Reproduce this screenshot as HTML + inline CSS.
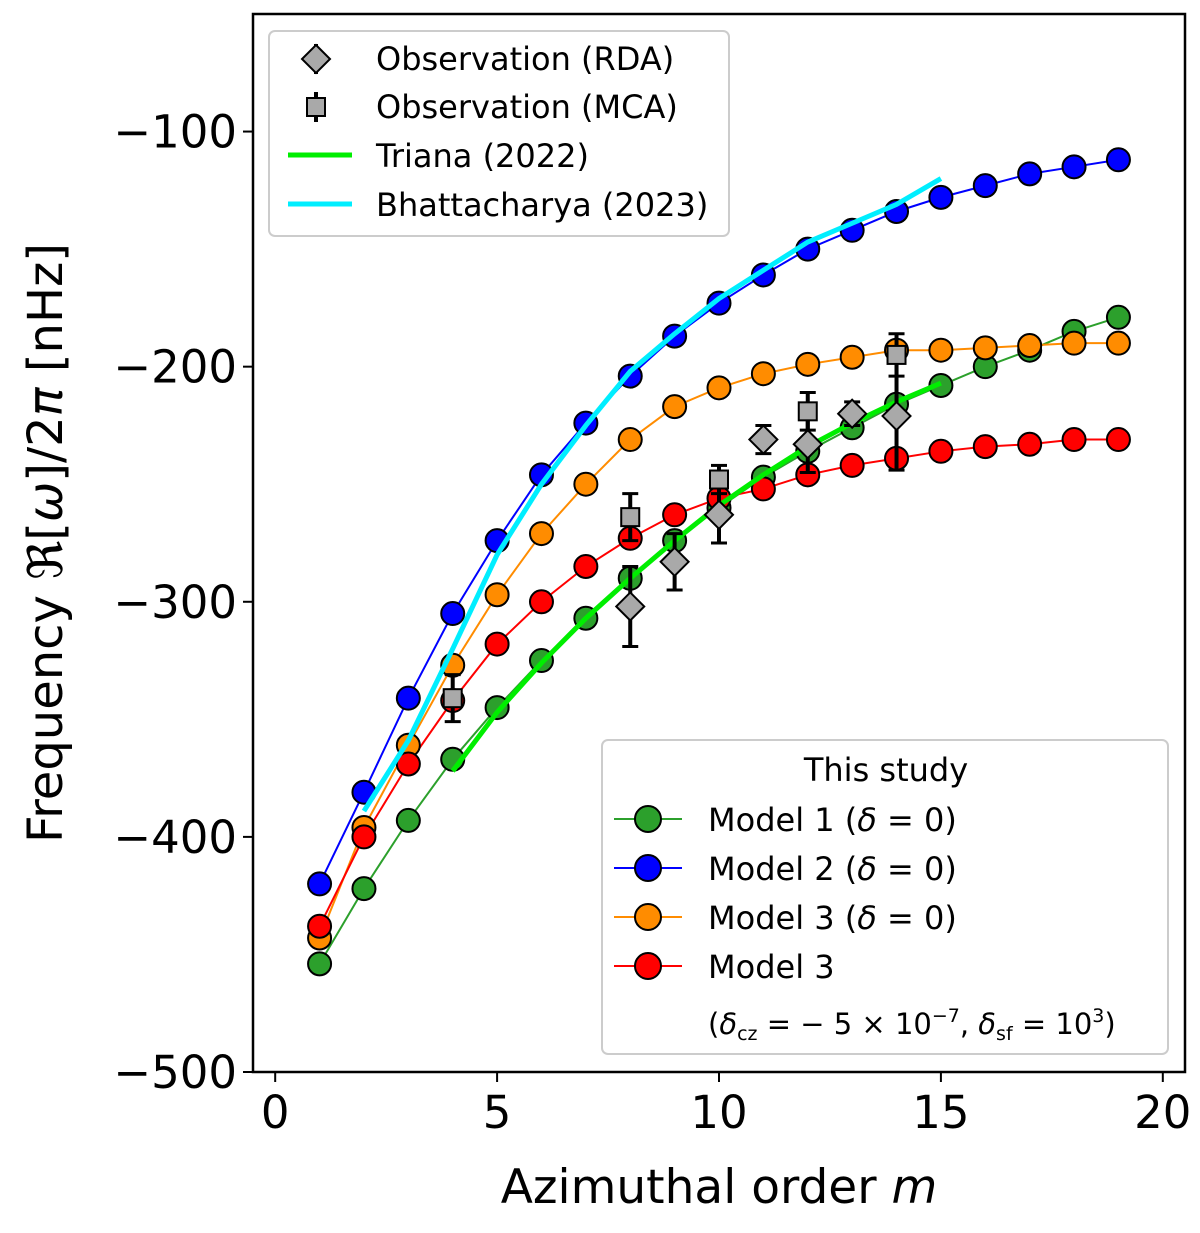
<!DOCTYPE html>
<html><head><meta charset="utf-8"><style>
body{margin:0;background:#fff;}
svg{display:block;font-family:"DejaVu Sans","Liberation Sans",sans-serif;}
</style></head><body>
<svg id="c" width="1200" height="1233"></svg>
<script>
const mAll=[1,2,3,4,5,6,7,8,9,10,11,12,13,14,15,16,17,18,19];
const model1=[-454,-422,-393,-367,-345,-325,-307,-290,-274,-260,-247,-236,-226,-216,-208,-200,-193,-185,-179];
const model2=[-420,-381,-341,-305,-274,-246,-224,-204,-187,-173,-161,-150,-142,-134,-128,-123,-118,-115,-112];
const model3=[-443,-396,-361,-327,-297,-271,-250,-231,-217,-209,-203,-199,-196,-193,-193,-192,-191,-190,-190];
const model3d=[-438,-400,-369,-342,-318,-300,-285,-273,-263,-256,-252,-246,-242,-239,-236,-234,-233,-231,-231];
const trianaM=[4,5,6,7,8,9,10,11,12,13,14,15];
const trianaV=[-372,-347,-326,-307,-290,-274,-259,-246,-234,-224,-215,-207];
const bhatM=[2,3,4,5,6,7,8,9,10,11,12,13,14,15];
const bhatV=[-389,-359,-320,-280,-250,-225,-202,-186,-171,-159,-147,-139,-131,-120];
const rdaM=[8,9,10,11,12,13,14];
const rdaV=[-302,-283,-263,-231,-233,-220,-221];
const rdaE=[17,12,12,6,12,5,23];
const mcaM=[4,8,10,12,14];
const mcaV=[-341,-264,-248,-219,-195];
const mcaE=[10,10,6,8,9];
const xTicks=[0,5,10,15,20];
const yTicks=[-100,-200,-300,-400,-500];

const L=253,R=1185,T=14,B=1072;
const X=v=>L+(v+0.5)/21*(R-L);
const Y=v=>T+(-50-v)/450*(B-T);
const svg=document.getElementById('c');
const NS='http://www.w3.org/2000/svg';
function el(t,a,p){const e=document.createElementNS(NS,t);for(const k in a)e.setAttribute(k,a[k]);(p||svg).appendChild(e);return e;}

function line(ms,vs,col,w,name){
  const p=el('polyline',{points:ms.map((m,i)=>X(m)+','+Y(vs[i])).join(' '),fill:'none',stroke:col,'stroke-width':w});
  
  
}
function circles(vs,col,name){
  vs.forEach((v,i)=>{const c=el('circle',{cx:X(mAll[i]),cy:Y(v),r:11.5,fill:col,stroke:'#000','stroke-width':2});
  
  });
}
line(mAll,model1,'#2ca02c',2,'model1-line');
line(mAll,model2,'#0000ff',2,'model2-line');
line(mAll,model3,'#ff8c00',2,'model3-line');
line(mAll,model3d,'#ff0000',2,'model3-delta-line');
circles(model1,'#2ca02c','model1');
circles(model2,'#0000ff','model2');
circles(model3,'#ff8c00','model3');
circles(model3d,'#ff0000','model3-delta');
line(trianaM,trianaV,'#00ee00',5,'triana-line');
line(bhatM,bhatV,'#00eeff',5,'bhattacharya-line');
function errbar(x,y1,y2){
  el('line',{x1:x,x2:x,y1:y1,y2:y2,stroke:'#000','stroke-width':4});
  el('line',{x1:x-8,x2:x+8,y1:y1,y2:y1,stroke:'#000','stroke-width':3});
  el('line',{x1:x-8,x2:x+8,y1:y2,y2:y2,stroke:'#000','stroke-width':3});
}
rdaM.forEach((m,i)=>{const x=X(m),y=Y(rdaV[i]);errbar(x,Y(rdaV[i]+rdaE[i]),Y(rdaV[i]-rdaE[i]));
  const d=el('polygon',{points:`${x},${y-14} ${x+14},${y} ${x},${y+14} ${x-14},${y}`,fill:'#a9a9a9',stroke:'#000','stroke-width':2});
  
  });
mcaM.forEach((m,i)=>{const x=X(m),y=Y(mcaV[i]);errbar(x,Y(mcaV[i]+mcaE[i]),Y(mcaV[i]-mcaE[i]));
  const s=el('rect',{x:x-9,y:y-9,width:18,height:18,fill:'#a9a9a9',stroke:'#000','stroke-width':2});
  
  });
el('rect',{x:L,y:T,width:R-L,height:B-T,fill:'none',stroke:'#000','stroke-width':2.5});
xTicks.forEach(t=>{el('line',{x1:X(t),x2:X(t),y1:B,y2:B+10,stroke:'#000','stroke-width':2});
  const tx=el('text',{x:X(t),y:B+56,'font-size':45,'text-anchor':'middle'});tx.textContent=t;
  
  });
yTicks.forEach(t=>{el('line',{x1:L-10,x2:L,y1:Y(t),y2:Y(t),stroke:'#000','stroke-width':2});
  const tx=el('text',{x:L-16,y:Y(t)+16,'font-size':45,'text-anchor':'end'});tx.textContent='−'+Math.abs(t);
  
  });
</script>
<svg style="position:absolute;left:0;top:0" width="1200" height="1233" font-family="DejaVu Sans, Liberation Sans, sans-serif">
<text x="719" y="1203" font-size="47" text-anchor="middle">Azimuthal order <tspan font-style="italic">m</tspan></text>
<text transform="translate(62,543) rotate(-90)" font-size="48" text-anchor="middle">Frequency ℜ[<tspan font-style="italic">ω</tspan>]/2<tspan font-style="italic">π</tspan> [nHz]</text>
<g>
<rect x="269" y="31" width="460" height="205" rx="6" fill="#fff" fill-opacity="0.85" stroke="#ccc" stroke-width="2"/>
<line x1="316" y1="44" x2="316" y2="74" stroke="#000" stroke-width="4"/><polygon points="316,45 330,59 316,73 302,59" fill="#a9a9a9" stroke="#000" stroke-width="2"/>
<text x="376" y="70" font-size="32">Observation (RDA)</text>
<line x1="316" y1="92" x2="316" y2="122" stroke="#000" stroke-width="4"/><rect x="307" y="98" width="18" height="18" fill="#a9a9a9" stroke="#000" stroke-width="2"/>
<text x="376" y="118" font-size="32">Observation (MCA)</text>
<line x1="288" y1="155" x2="352" y2="155" stroke="#00ee00" stroke-width="5"/><text x="376" y="167" font-size="32">Triana (2022)</text>
<line x1="288" y1="204" x2="352" y2="204" stroke="#00eeff" stroke-width="5"/><text x="376" y="216" font-size="32">Bhattacharya (2023)</text>
</g>
<g>
<rect x="602" y="740" width="566" height="314" rx="6" fill="#fff" fill-opacity="0.85" stroke="#ccc" stroke-width="2"/>
<text x="886" y="781" font-size="32" text-anchor="middle">This study</text>
<line x1="614" y1="819" x2="682" y2="819" stroke="#2ca02c" stroke-width="2"/><circle cx="648" cy="819" r="13" fill="#2ca02c" stroke="#000" stroke-width="2"/>
<text x="708" y="831" font-size="32">Model 1 (<tspan font-style="italic">δ</tspan> = 0)</text>
<line x1="614" y1="868" x2="682" y2="868" stroke="#0000ff" stroke-width="2"/><circle cx="648" cy="868" r="13" fill="#0000ff" stroke="#000" stroke-width="2"/>
<text x="708" y="880" font-size="32">Model 2 (<tspan font-style="italic">δ</tspan> = 0)</text>
<line x1="614" y1="917" x2="682" y2="917" stroke="#ff8c00" stroke-width="2"/><circle cx="648" cy="917" r="13" fill="#ff8c00" stroke="#000" stroke-width="2"/>
<text x="708" y="929" font-size="32">Model 3 (<tspan font-style="italic">δ</tspan> = 0)</text>
<line x1="614" y1="966" x2="682" y2="966" stroke="#ff0000" stroke-width="2"/><circle cx="648" cy="966" r="13" fill="#ff0000" stroke="#000" stroke-width="2"/>
<text x="708" y="978" font-size="32">Model 3</text>
<text x="708" y="1034" font-size="29">(<tspan font-style="italic">δ</tspan><tspan font-size="19" dy="6">cz</tspan><tspan dy="-6"> = − 5 × 10</tspan><tspan font-size="19" dy="-12">−7</tspan><tspan dy="12">, </tspan><tspan font-style="italic">δ</tspan><tspan font-size="19" dy="6">sf</tspan><tspan dy="-6"> = 10</tspan><tspan font-size="19" dy="-12">3</tspan><tspan dy="12">)</tspan></text>
</g>
</svg>
</body></html>
